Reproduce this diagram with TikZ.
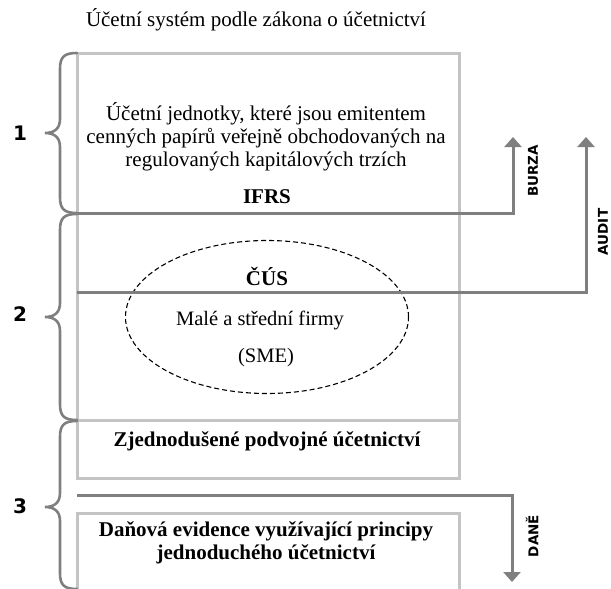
\documentclass[tikz,border=0pt]{standalone}
\usepackage{fontspec}
\setmainfont{Liberation Serif}
\newfontfamily\labelfont{DejaVu Sans}
\usetikzlibrary{arrows.meta,shapes.geometric}
\definecolor{boxgray}{HTML}{C4C4C4}
\definecolor{flowgray}{HTML}{7F7F7F}
\begin{document}
\begin{tikzpicture}[x=1pt,y=-1pt,
  frame/.style={draw=boxgray,line width=3pt},
  flow/.style={draw=flowgray,line width=3pt,-{Triangle[width=17pt,length=10pt]}},
  bracestyle/.style={draw=flowgray,line width=2.6pt,line cap=round},
  numlabel/.style={font=\labelfont\bfseries\fontsize{20}{20}\selectfont},
  sidelabel/.style={font=\labelfont\bfseries\fontsize{13.5}{13.5}\selectfont,rotate=90,inner sep=1pt},
  plain/.style={font=\fontsize{21}{23}\selectfont,align=center},
  heavy/.style={font=\bfseries\fontsize{21}{23}\selectfont,align=center}]
\useasboundingbox (0,0) rectangle (611,589);
\clip (0,0) rectangle (611,589);

% title
\node[plain] (title) at (256,20) {Účetní systém podle zákona o účetnictví};

% main frame with the simplified double-entry section
\draw[frame] (77,53) rectangle (459,478);
\draw[frame] (77,420) -- (459,420);
% lower frame (tax records), open at the bottom
\draw[frame] (77,600) -- (77,513) -- (459,513) -- (459,600);

% texts inside the frames
\node[plain] (issuers) at (266,137) {Účetní jednotky, které jsou emitentem\\cenných papírů veřejně obchodovaných na\\regulovaných kapitálových trzích};
\node[heavy] (ifrs) at (267,197) {IFRS};
\node[heavy] (cus) at (267,276) {ČÚS};
\node[draw,dashed,dash pattern=on 5pt off 3pt,line width=1.1pt,ellipse,minimum width=283pt,minimum height=153pt] (sme) at (267,317) {};
\node[plain,font=\fontsize{20.5}{20.5}\selectfont] (smename) at (260,320) {Malé a střední firmy};
\node[plain,font=\fontsize{20.5}{20.5}\selectfont] (smeabbr) at (266,358) {(SME)};
\node[heavy] (simple) at (267,441) {Zjednodušené podvojné účetnictví};
\node[heavy] (taxrec) at (266,543) {Daňová evidence využívající principy\\jednoduchého účetnictví};

% flow lines with arrows
\coordinate (burzaStart) at (77,213);
\coordinate (burzaTip) at (513,137);
\coordinate (auditStart) at (77,292);
\coordinate (auditTip) at (586,137);
\coordinate (daneStart) at (77,495);
\coordinate (daneTip) at (512,582);
\draw[flow] (burzaStart) -| (burzaTip);
\draw[flow] (auditStart) -| (auditTip);
\draw[flow] (daneStart) -| (daneTip);
\node[sidelabel] (burza) at (533,171) {BURZA};
\node[sidelabel] (audit) at (603,232) {AUDIT};
\node[sidelabel] (dane) at (532,536) {DANĚ};

% braces with their numbers
\draw[bracestyle] (77,53) .. controls (64,53) and (60,57) .. (60,69) -- (60,119) .. controls (60,129) and (54,133) .. (45,133) .. controls (54,133) and (60,137) .. (60,147) -- (60,197) .. controls (60,209) and (64,213) .. (77,213);
\draw[bracestyle] (77,214) .. controls (64,214) and (60,218) .. (60,230) -- (60,303) .. controls (60,313) and (54,317) .. (45,317) .. controls (54,317) and (60,321) .. (60,331) -- (60,404) .. controls (60,416) and (64,420) .. (77,420);
\draw[bracestyle] (77,421) .. controls (64,421) and (60,425) .. (60,437) -- (60,493) .. controls (60,503) and (54,507) .. (45,507) .. controls (54,507) and (60,511) .. (60,521) -- (60,573) .. controls (60,585) and (64,589) .. (77,589);
\node[numlabel] (n1) at (20,133) {1};
\node[numlabel] (n2) at (20,314) {2};
\node[numlabel] (n3) at (20,506) {3};
\end{tikzpicture}
\end{document}
